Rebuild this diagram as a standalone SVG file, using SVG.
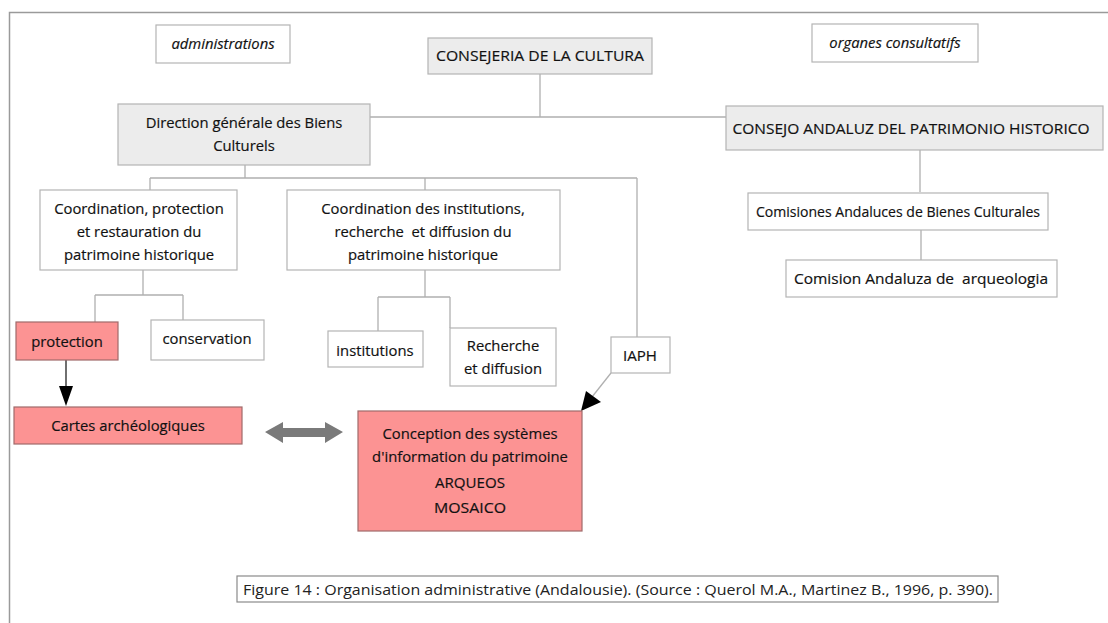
<svg xmlns="http://www.w3.org/2000/svg" width="1108" height="623" viewBox="0 0 1108 623">
<defs>
<style>
.box{fill:#fff;stroke:#b4b4b4;stroke-width:1.2}
.grey{fill:#ececec;stroke:#b4b4b4;stroke-width:1.2}
.pink{fill:#fc9393;stroke:#a06a6a;stroke-width:1.2}
.conn{fill:none;stroke:#b0b0b0;stroke-width:1.3}
text{font-family:"Open Sans","Liberation Sans",sans-serif;font-size:14.8px;fill:#111;stroke:#111;stroke-width:0.18;text-anchor:middle;white-space:pre}
.it{font-style:italic}
.cap{stroke:none;fill:#222}
</style>
</defs>
<rect width="1108" height="623" fill="#fff"/>
<path d="M9.5,623 V12.5 H1108" fill="none" stroke="#9a9a9a" stroke-width="1.5"/>

<g id="connectors">
<path class="conn" d="M540,73 V117 M370,117 H726"/>
<path class="conn" d="M245,165 V178 M150,178 H637 M150,178 V190 M425,178 V190 M637,178 V337"/>
<path class="conn" d="M143,270 V295 M95,295 H183 M95,295 V322 M183,295 V320"/>
<path class="conn" d="M425,270 V297 M378,297 H450 M378,297 V331 M450,297 V328"/>
<path class="conn" d="M920,150 V192 M921,230 V260"/>
<path d="M66,360 V386" stroke="#222" stroke-width="1.3" fill="none"/>
<path d="M59,386 L73,386 L66,406 Z" fill="#000"/>
<path d="M611,373 L592,397" stroke="#b0b0b0" stroke-width="1.3" fill="none"/>
<path d="M581,411 L586,391 L601,402 Z" fill="#000"/>
<path d="M265,432 L283,422 L283,428 L325,428 L325,422 L343,432 L325,443 L325,437 L283,437 L283,443 Z" fill="#7a7a7a"/>
</g>

<g id="administrations"><rect class="box" x="156" y="25" width="134" height="38"/><text class="it" x="223" y="49">administrations</text></g>
<g id="consejeria"><rect class="grey" x="428" y="38" width="224" height="36"/><text x="540" y="61" textLength="208" lengthAdjust="spacingAndGlyphs">CONSEJERIA DE LA CULTURA</text></g>
<g id="organes"><rect class="box" x="812" y="24" width="166" height="38"/><text class="it" x="895" y="48">organes consultatifs</text></g>
<g id="direction"><rect class="grey" x="118" y="104" width="252" height="61"/><text x="244" y="128">Direction générale des Biens</text><text x="244" y="151">Culturels</text></g>
<g id="consejo"><rect class="grey" x="726" y="106" width="377" height="44"/><text x="911" y="134" textLength="357" lengthAdjust="spacingAndGlyphs">CONSEJO ANDALUZ DEL PATRIMONIO HISTORICO</text></g>
<g id="coord1"><rect class="box" x="40" y="190" width="197" height="80"/><text x="139" y="214">Coordination, protection</text><text x="139" y="237">et restauration du</text><text x="139" y="260">patrimoine historique</text></g>
<g id="coord2"><rect class="box" x="287" y="190" width="273" height="80"/><text x="423" y="214">Coordination des institutions,</text><text x="423" y="237">recherche  et diffusion du</text><text x="423" y="260">patrimoine historique</text></g>
<g id="comisiones"><rect class="box" x="748" y="193" width="300" height="37"/><text x="898" y="217" textLength="284" lengthAdjust="spacingAndGlyphs">Comisiones Andaluces de Bienes Culturales</text></g>
<g id="comision"><rect class="box" x="786" y="260" width="271" height="37"/><text x="921" y="284" textLength="254" lengthAdjust="spacingAndGlyphs">Comision Andaluza de  arqueologia</text></g>
<g id="protection"><rect class="pink" x="16" y="322" width="102" height="38"/><text x="67" y="347">protection</text></g>
<g id="conservation"><rect class="box" x="151" y="320" width="113" height="40"/><text x="207" y="344">conservation</text></g>
<g id="institutions"><rect class="box" x="328" y="331" width="95" height="36"/><text x="375" y="356">institutions</text></g>
<g id="recherche"><rect class="box" x="450" y="328" width="106" height="58"/><text x="503" y="351">Recherche</text><text x="503" y="374">et diffusion</text></g>
<g id="iaph"><rect class="box" x="611" y="337" width="59" height="36"/><text x="640" y="361" textLength="34" lengthAdjust="spacingAndGlyphs">IAPH</text></g>
<g id="conception"><rect class="pink" x="358" y="411" width="224" height="120"/><text x="470" y="439">Conception des systèmes</text><text x="470" y="462">d'information du patrimoine</text><text x="470" y="488" textLength="70" lengthAdjust="spacingAndGlyphs">ARQUEOS</text><text x="470" y="513" textLength="72" lengthAdjust="spacingAndGlyphs">MOSAICO</text></g>
<g id="cartes"><rect class="pink" x="14" y="407" width="228" height="37"/><text x="128" y="431">Cartes archéologiques</text></g>
<g id="caption"><rect fill="#fff" stroke="#8a8a8a" stroke-width="1.2" x="237" y="576" width="761" height="26"/><text class="cap" x="618" y="595" textLength="750" lengthAdjust="spacingAndGlyphs">Figure 14 : Organisation administrative (Andalousie). (Source : Querol M.A., Martinez B., 1996, p. 390).</text></g>
</svg>
